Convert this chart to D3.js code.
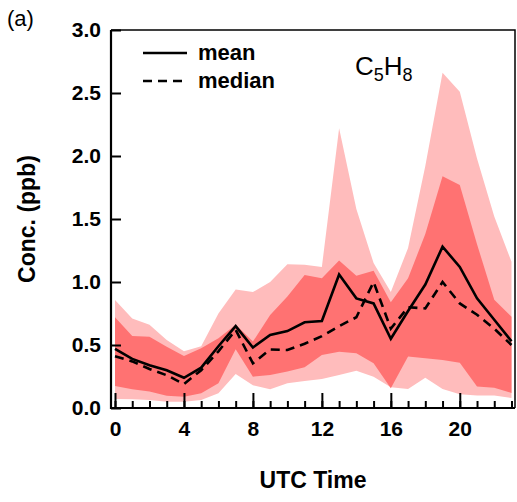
<!DOCTYPE html>
<html>
<head>
<meta charset="utf-8">
<script src="https://cdn.jsdelivr.net/npm/d3@7"></script>
<style>
  html, body { margin: 0; padding: 0; background: #fff; }
  svg { display: block; font-family: "Liberation Sans", Arial, sans-serif; }
</style>
</head>
<body>
<svg id="chart" width="517" height="502"></svg>
<script>
// Diurnal isoprene (C5H8) concentration by UTC hour
const hours = [0, 1, 2, 3, 4, 5, 6, 7, 8, 9, 10, 11, 12, 13, 14, 15, 16, 17, 18, 19, 20, 21, 22, 23];
const meanVals   = [0.47, 0.39, 0.34, 0.30, 0.24, 0.32, 0.49, 0.65, 0.48, 0.58, 0.61, 0.68, 0.69, 1.06, 0.87, 0.83, 0.55, 0.77, 0.98, 1.28, 1.12, 0.87, 0.70, 0.53];
const medianVals = [0.41, 0.37, 0.31, 0.26, 0.19, 0.30, 0.45, 0.62, 0.355, 0.465, 0.46, 0.51, 0.57, 0.65, 0.72, 1.00, 0.63, 0.80, 0.79, 1.00, 0.83, 0.74, 0.63, 0.50];
const p10Vals = [0.071, 0.07, 0.064, 0.05, 0.05, 0.064, 0.117, 0.27, 0.18, 0.148, 0.196, 0.214, 0.23, 0.262, 0.296, 0.249, 0.164, 0.15, 0.24, 0.15, 0.11, 0.10, 0.10, 0.08];
const p25Vals = [0.175, 0.148, 0.13, 0.098, 0.09, 0.117, 0.196, 0.466, 0.249, 0.262, 0.289, 0.323, 0.42, 0.447, 0.434, 0.355, 0.156, 0.408, 0.394, 0.381, 0.36, 0.17, 0.16, 0.12];
const p75Vals = [0.72, 0.572, 0.566, 0.487, 0.413, 0.474, 0.553, 0.66, 0.527, 0.739, 0.884, 1.056, 1.03, 1.17, 1.05, 1.09, 0.84, 1.03, 1.38, 1.84, 1.77, 1.30, 0.86, 0.725];
const p90Vals = [0.858, 0.71, 0.66, 0.54, 0.45, 0.49, 0.75, 0.94, 0.92, 1.00, 1.14, 1.136, 1.12, 2.22, 1.58, 1.15, 0.92, 1.27, 1.92, 2.66, 2.51, 1.98, 1.52, 1.16];

const xMajorTicks = [0, 4, 8, 12, 16, 20];
const yTicks = [0.0, 0.5, 1.0, 1.5, 2.0, 2.5, 3.0];

const svg = d3.select("#chart");
const frame = { left: 111, right: 515, top: 30, bottom: 408 };

const x = d3.scaleLinear().domain([0, 23]).range([115, 511.5]);
const y = d3.scaleLinear().domain([0, 3]).range([frame.bottom, frame.top]);

const rows = hours.map((h, i) => ({
  h, mean: meanVals[i], median: medianVals[i],
  p10: p10Vals[i], p25: p25Vals[i], p75: p75Vals[i], p90: p90Vals[i]
}));

// shaded percentile ranges
const outerArea = d3.area().x(d => x(d.h)).y0(d => y(d.p10)).y1(d => y(d.p90));
const innerArea = d3.area().x(d => x(d.h)).y0(d => y(d.p25)).y1(d => y(d.p75));
svg.append("path").datum(rows).attr("d", outerArea).attr("fill", "#ffbcbc");
svg.append("path").datum(rows).attr("d", innerArea).attr("fill", "#ff7272");

// mean and median lines
const meanLine = d3.line().x(d => x(d.h)).y(d => y(d.mean));
const medianLine = d3.line().x(d => x(d.h)).y(d => y(d.median));
svg.append("path").datum(rows).attr("d", meanLine)
  .attr("fill", "none").attr("stroke", "#000").attr("stroke-width", 2.6)
  .attr("stroke-linejoin", "miter");
svg.append("path").datum(rows).attr("d", medianLine)
  .attr("fill", "none").attr("stroke", "#000").attr("stroke-width", 2.6)
  .attr("stroke-dasharray", "9,6");

// x axis: minor hourly ticks and labelled major ticks, pointing inward
const xMinor = svg.append("g").attr("transform", `translate(0,${frame.bottom})`)
  .call(d3.axisBottom(x).tickValues(hours).tickSize(-7).tickFormat(""));
const xMajor = svg.append("g").attr("transform", `translate(0,${frame.bottom})`)
  .call(d3.axisBottom(x).tickValues(xMajorTicks).tickSize(-15).tickPadding(13).tickFormat(d3.format("d")));
[xMinor, xMajor].forEach(g => {
  g.select(".domain").remove();
  g.selectAll(".tick line").attr("stroke", "#000").attr("stroke-width", 2);
});
xMajor.selectAll(".tick text")
  .attr("font-size", 21).attr("font-weight", "bold").attr("fill", "#000")
  .attr("font-family", "'Liberation Sans', Arial, sans-serif");

// y axis
const yAxis = svg.append("g").attr("transform", `translate(${frame.left},0)`)
  .call(d3.axisLeft(y).tickValues(yTicks).tickSize(-10).tickPadding(10).tickFormat(d3.format(".1f")));
yAxis.select(".domain").remove();
yAxis.selectAll(".tick line").attr("stroke", "#000").attr("stroke-width", 2);
yAxis.selectAll(".tick text")
  .attr("font-size", 21).attr("font-weight", "bold").attr("fill", "#000")
  .attr("font-family", "'Liberation Sans', Arial, sans-serif");

// plot frame
svg.append("path")
  .attr("d", `M${frame.left},${frame.top}V${frame.bottom}H${frame.right}`)
  .attr("fill", "none").attr("stroke", "#000").attr("stroke-width", 2.2);
svg.append("path")
  .attr("d", `M${frame.left},${frame.top}H${frame.right}V${frame.bottom}`)
  .attr("fill", "none").attr("stroke", "#000").attr("stroke-width", 1.5);

// axis titles
svg.append("text").attr("x", 313).attr("y", 488).attr("text-anchor", "middle")
  .attr("font-size", 23).attr("font-weight", "bold").text("UTC Time");
svg.append("text").attr("transform", "translate(35,219) rotate(-90)")
  .attr("text-anchor", "middle").attr("font-size", 23).attr("font-weight", "bold")
  .text("Conc. (ppb)");

// panel tag
svg.append("text").attr("x", 7).attr("y", 26).attr("font-size", 22).text("(a)");

// species label
const species = svg.append("text").attr("x", 355).attr("y", 75).attr("font-size", 26);
species.append("tspan").text("C");
species.append("tspan").attr("font-size", 18).attr("dy", 6).text("5");
species.append("tspan").attr("dy", -6).text("H");
species.append("tspan").attr("font-size", 18).attr("dy", 6).text("8");

// legend
const legendItems = [
  { label: "mean", dash: null, y: 53 },
  { label: "median", dash: "9,6", y: 81 }
];
legendItems.forEach(item => {
  svg.append("line").attr("x1", 143).attr("x2", 187).attr("y1", item.y).attr("y2", item.y)
    .attr("stroke", "#000").attr("stroke-width", 2.6)
    .attr("stroke-dasharray", item.dash);
  svg.append("text").attr("x", 198).attr("y", item.y + 7)
    .attr("font-size", 22).attr("font-weight", "bold").text(item.label);
});
</script>
</body>
</html>
